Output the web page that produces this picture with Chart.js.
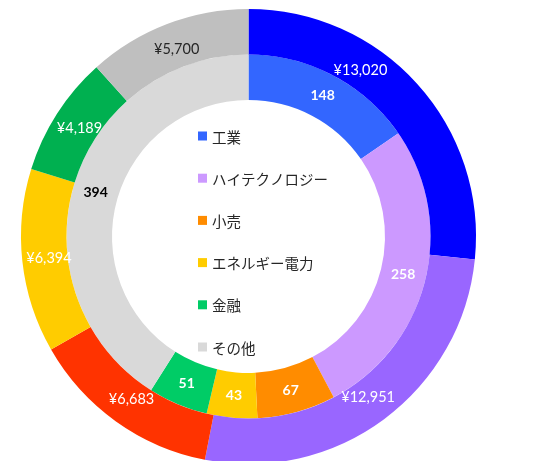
<!DOCTYPE html>
<html>
<head>
<meta charset="utf-8">
<script src="https://cdn.jsdelivr.net/npm/chart.js@4/dist/chart.umd.min.js"></script>
<style>
  html, body { margin: 0; padding: 0; background: #fff; overflow: hidden; }
  #wrap { width: 546px; height: 470px; }
</style>
</head>
<body>
<div id="wrap"><canvas id="c" width="546" height="470"></canvas></div>
<script>
// Sectors (legend order)
const sectors = ['工業', 'ハイテクノロジー', '小売', 'エネルギー電力', '金融', 'その他'];

// Outer ring: amounts in yen
const amounts = [13020, 12951, 6683, 6394, 4189, 5700];
const amountColors = ['#0000FF', '#9966FF', '#FF3300', '#FFCC00', '#00B050', '#BFBFBF'];

// Inner ring: counts
const counts = [148, 258, 67, 43, 51, 394];
const countColors = ['#3366FF', '#CC99FF', '#FF8C00', '#FFCC00', '#00CC66', '#D9D9D9'];

const yen = v => '¥' + v.toLocaleString('en-US');

// Labels in the middle of each arc
const arcLabels = {
  id: 'arcLabels',
  afterDatasetsDraw(chart, args, opts) {
    const ctx = chart.ctx;
    chart.data.datasets.forEach((ds, di) => {
      const meta = chart.getDatasetMeta(di);
      const cfg = opts.rings[di];
      meta.data.forEach((arc, i) => {
        const p = arc.getProps(['x', 'y', 'startAngle', 'endAngle', 'innerRadius', 'outerRadius'], true);
        const shift = ((cfg.angleShift && cfg.angleShift[i]) || 0) * Math.PI / 180;
        const a = (p.startAngle + p.endAngle) / 2 + shift;
        const r = (p.innerRadius + p.outerRadius) / 2 + (cfg.radiusShift || 0);
        ctx.save();
        ctx.font = cfg.font;
        ctx.fillStyle = (cfg.colors && cfg.colors[i]) || cfg.color;
        ctx.textAlign = 'center';
        ctx.textBaseline = 'middle';
        ctx.fillText(cfg.format(ds.data[i]), p.x + Math.cos(a) * r, p.y + Math.sin(a) * r);
        ctx.restore();
      });
    });
  }
};

// Legend drawn in the hole
const centerLegend = {
  id: 'centerLegend',
  afterDraw(chart, args, opts) {
    const ctx = chart.ctx;
    const colors = chart.data.datasets[opts.colorSet].backgroundColor;
    chart.data.labels.forEach((lab, i) => {
      const y = opts.top + i * opts.step;
      ctx.fillStyle = colors[i];
      ctx.fillRect(opts.left, y - opts.box / 2, opts.box, opts.box);
      ctx.fillStyle = '#262626';
      ctx.font = opts.font;
      ctx.textAlign = 'left';
      ctx.textBaseline = 'middle';
      ctx.fillText(lab, opts.left + 14, y + 1);
    });
  }
};

new Chart(document.getElementById('c'), {
  type: 'doughnut',
  data: {
    labels: sectors,
    datasets: [
      { label: '金額', data: amounts, backgroundColor: amountColors, borderWidth: 0, hoverOffset: 0 },
      { label: '件数', data: counts, backgroundColor: countColors, borderWidth: 0, hoverOffset: 0 }
    ]
  },
  options: {
    responsive: false,
    devicePixelRatio: 1,
    animation: false,
    cutout: '60%',
    layout: { padding: { left: 21, right: 70, top: 9, bottom: 6 } },
    plugins: {
      legend: { display: false },
      tooltip: { enabled: false },
      arcLabels: {
        rings: [
          {
            font: '14.5px Lato', color: '#FFFFFF', format: yen, radiusShift: -4,
            colors: [null, null, null, null, null, '#262626'],
            angleShift: [-14]
          },
          {
            font: 'bold 14px Lato', color: '#FFFFFF', format: v => String(v),
            colors: [null, null, null, null, null, '#000000']
          }
        ]
      },
      centerLegend: {
        colorSet: 1, left: 198, top: 136, step: 42.2, box: 9,
        font: '14.5px "Noto Sans CJK JP"'
      }
    }
  },
  plugins: [arcLabels, centerLegend]
});
</script>
</body>
</html>
